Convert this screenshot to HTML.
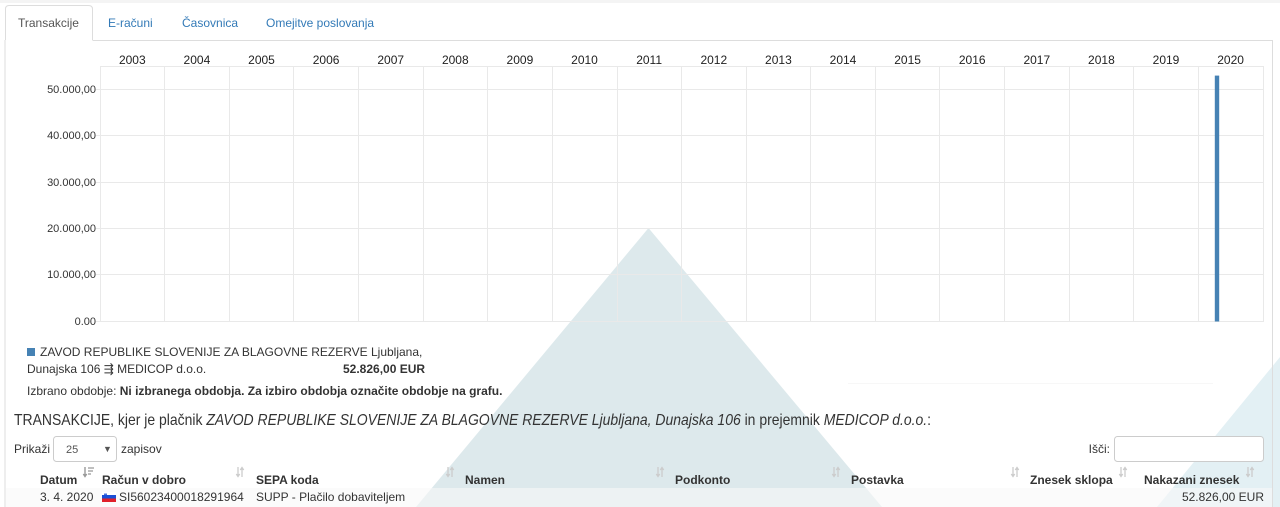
<!DOCTYPE html>
<html>
<head>
<meta charset="utf-8">
<style>
html,body{margin:0;padding:0;background:#fff;}
body{width:1280px;height:507px;overflow:hidden;}
svg{display:block;}
text{font-family:"Liberation Sans","DejaVu Sans",Arial,sans-serif;}
</style>
</head>
<body>
<svg width="1280" height="507" viewBox="0 0 1280 507" xmlns="http://www.w3.org/2000/svg">
  <rect x="0" y="0" width="1280" height="3" fill="#f4f4f4"/>
  <polygon points="648.5,228 416,507 882,507" fill="#dde9ec"/>
  <polygon points="1280,357 1157,507 1280,507" fill="#e3f0f4"/>

  <path d="M5.5,40 L5.5,9 Q5.5,5.5 9,5.5 L88.5,5.5 Q92.5,5.5 92.5,9 L92.5,40" fill="#fff" stroke="#ddd" stroke-width="1"/>
  <line x1="92.5" y1="40.5" x2="1272.5" y2="40.5" stroke="#ddd"/>
  <line x1="5" y1="40" x2="5" y2="507" stroke="#ddd"/>
  <line x1="1272.5" y1="40" x2="1272.5" y2="507" stroke="#ddd"/>
  <g font-size="12">
    <text x="18" y="27" fill="#555">Transakcije</text>
    <text x="108" y="27" fill="#337ab7">E-računi</text>
    <text x="182" y="27" fill="#337ab7">Časovnica</text>
    <text x="266" y="27" fill="#337ab7">Omejitve poslovanja</text>
  </g>

  <g stroke="#e9e9e9" stroke-width="1" fill="none">
    <line x1="100" y1="66.5" x2="1263" y2="66.5"/>
    <line x1="96" y1="89.5" x2="1263" y2="89.5"/>
    <line x1="96" y1="135.5" x2="1263" y2="135.5"/>
    <line x1="96" y1="182.5" x2="1263" y2="182.5"/>
    <line x1="96" y1="228.5" x2="1263" y2="228.5"/>
    <line x1="96" y1="274.5" x2="1263" y2="274.5"/>
    <line x1="96" y1="321.5" x2="1263" y2="321.5"/>
    <line x1="100.5" y1="66" x2="100.5" y2="322"/>
    <line x1="164.5" y1="66" x2="164.5" y2="322"/>
    <line x1="229.5" y1="66" x2="229.5" y2="322"/>
    <line x1="293.5" y1="66" x2="293.5" y2="322"/>
    <line x1="358.5" y1="66" x2="358.5" y2="322"/>
    <line x1="423.5" y1="66" x2="423.5" y2="322"/>
    <line x1="487.5" y1="66" x2="487.5" y2="322"/>
    <line x1="552.5" y1="66" x2="552.5" y2="322"/>
    <line x1="617.5" y1="66" x2="617.5" y2="322"/>
    <line x1="681.5" y1="66" x2="681.5" y2="322"/>
    <line x1="746.5" y1="66" x2="746.5" y2="322"/>
    <line x1="810.5" y1="66" x2="810.5" y2="322"/>
    <line x1="875.5" y1="66" x2="875.5" y2="322"/>
    <line x1="939.5" y1="66" x2="939.5" y2="322"/>
    <line x1="1004.5" y1="66" x2="1004.5" y2="322"/>
    <line x1="1069.5" y1="66" x2="1069.5" y2="322"/>
    <line x1="1133.5" y1="66" x2="1133.5" y2="322"/>
    <line x1="1198.5" y1="66" x2="1198.5" y2="322"/>
    <line x1="1263.5" y1="66" x2="1263.5" y2="322"/>
  </g>
  <rect x="1214.8" y="75.6" width="4.4" height="245.9" fill="#4682b4"/>

  <g font-size="12" fill="#222" text-anchor="middle">
    <text x="132.3" y="64">2003</text>
    <text x="196.9" y="64">2004</text>
    <text x="261.5" y="64">2005</text>
    <text x="326.1" y="64">2006</text>
    <text x="390.7" y="64">2007</text>
    <text x="455.3" y="64">2008</text>
    <text x="519.9" y="64">2009</text>
    <text x="584.5" y="64">2010</text>
    <text x="649.1" y="64">2011</text>
    <text x="713.8" y="64">2012</text>
    <text x="778.4" y="64">2013</text>
    <text x="843.0" y="64">2014</text>
    <text x="907.6" y="64">2015</text>
    <text x="972.2" y="64">2016</text>
    <text x="1036.8" y="64">2017</text>
    <text x="1101.4" y="64">2018</text>
    <text x="1166.0" y="64">2019</text>
    <text x="1230.6" y="64">2020</text>
  </g>
  <g font-size="11" fill="#333" text-anchor="end">
    <text x="96" y="93">50.000,00</text>
    <text x="96" y="139">40.000,00</text>
    <text x="96" y="186">30.000,00</text>
    <text x="96" y="232">20.000,00</text>
    <text x="96" y="278">10.000,00</text>
    <text x="96" y="325">0.00</text>
  </g>

  <line x1="848" y1="383.5" x2="1213" y2="383.5" stroke="#f7f7f7"/>

  <rect x="27" y="348" width="8" height="8" fill="#4682b4"/>
  <g font-size="12" fill="#333">
    <text x="40" y="356">ZAVOD REPUBLIKE SLOVENIJE ZA BLAGOVNE REZERVE Ljubljana,</text>
    <text x="27" y="373">Dunajska 106 ⇶ MEDICOP d.o.o.</text>
    <text x="343" y="373" font-weight="bold">52.826,00 EUR</text>
    <text x="27" y="395">Izbrano obdobje: <tspan font-weight="bold">Ni izbranega obdobja. Za izbiro obdobja označite obdobje na grafu.</tspan></text>
  </g>

  <text x="14" y="425" font-size="16" fill="#333" textLength="917" lengthAdjust="spacingAndGlyphs">TRANSAKCIJE, kjer je plačnik <tspan font-style="italic">ZAVOD REPUBLIKE SLOVENIJE ZA BLAGOVNE REZERVE Ljubljana, Dunajska 106</tspan> in prejemnik <tspan font-style="italic">MEDICOP d.o.o.</tspan>:</text>

  <g font-size="12" fill="#333">
    <text x="14" y="453">Prikaži</text>
    <text x="121" y="453">zapisov</text>
    <text x="1110" y="453" text-anchor="end">Išči:</text>
  </g>
  <rect x="53.5" y="436.5" width="63" height="25" rx="3" fill="#fff" stroke="#ccc"/>
  <text x="66" y="453" font-size="11" fill="#555">25</text>
  <text x="103" y="452" font-size="9" fill="#555">▼</text>
  <rect x="1114.5" y="436.5" width="149" height="25" rx="3" fill="#fff" stroke="#ccc"/>

  <rect x="6" y="488" width="1266" height="19" fill="#f9f9f9" fill-opacity="0.6"/>

  <g font-size="12" font-weight="bold" fill="#333">
    <text x="40" y="484">Datum</text>
    <text x="102" y="484">Račun v dobro</text>
    <text x="256" y="484">SEPA koda</text>
    <text x="465" y="484">Namen</text>
    <text x="675" y="484">Podkonto</text>
    <text x="851" y="484">Postavka</text>
    <text x="1030" y="484">Znesek sklopa</text>
    <text x="1144" y="484">Nakazani znesek</text>
  </g>
  <defs>
    <g id="si">
      <path d="M2,467 L2,476 M0.3,474 L2,476.5 L3.7,474" stroke="#ccc" stroke-width="1.3" fill="none"/>
      <path d="M6,468 L6,477 M4.3,470 L6,467.5 L7.7,470" stroke="#ccc" stroke-width="1.3" fill="none"/>
    </g>
  </defs>
  <path d="M85,467 L85,476 M83.3,474 L85,476.5 L86.7,474" stroke="#999" stroke-width="1.4" fill="none"/>
  <path d="M88,468 H94 M88,471 H93 M88,474 H91" stroke="#999" stroke-width="1.3" fill="none"/>
  <use href="#si" x="236"/>
  <use href="#si" x="446"/>
  <use href="#si" x="656"/>
  <use href="#si" x="832"/>
  <use href="#si" x="1011"/>
  <use href="#si" x="1119"/>
  <use href="#si" x="1246"/>

  <g font-size="12" fill="#333">
    <text x="40" y="501">3. 4. 2020</text>
    <text x="119" y="501">SI56023400018291964</text>
    <text x="256" y="501">SUPP - Plačilo dobaviteljem</text>
    <text x="1264" y="501" text-anchor="end">52.826,00 EUR</text>
  </g>
  <rect x="102" y="492" width="14" height="3" fill="#ffffff"/>
  <rect x="102" y="495" width="14" height="3.5" fill="#1a4fd6"/>
  <rect x="102" y="498.5" width="14" height="3.5" fill="#e0202a"/>
  <rect x="104" y="493.5" width="3" height="4" fill="#1a4fd6" opacity="0.8"/>
</svg>
</body>
</html>
